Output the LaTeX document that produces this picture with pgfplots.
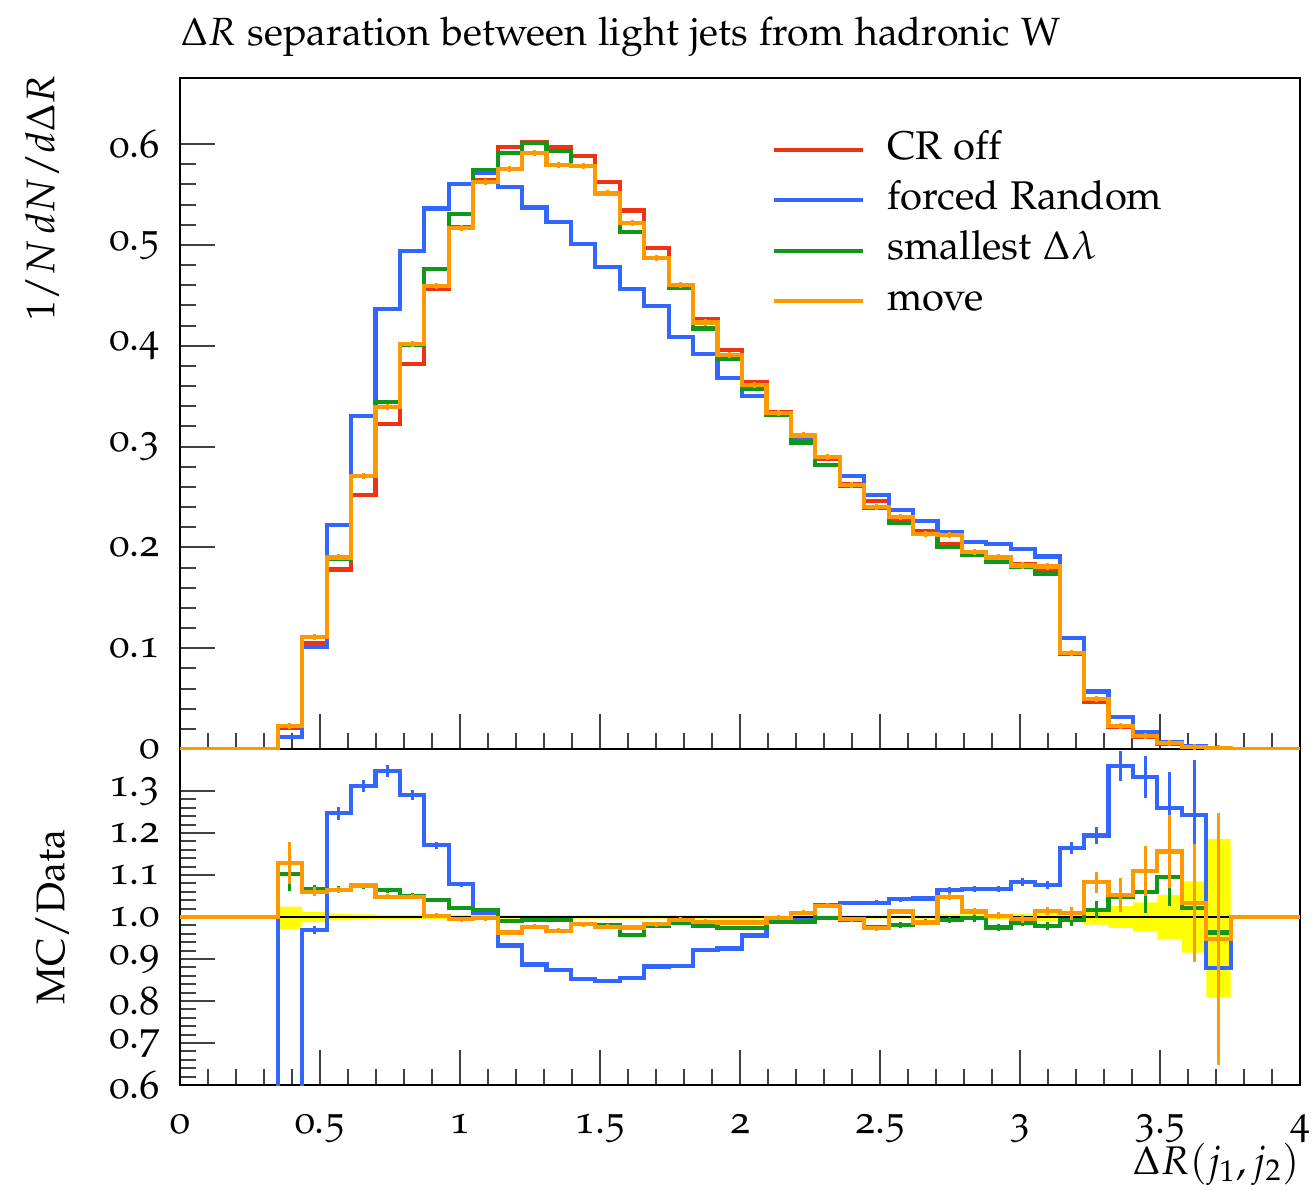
\documentclass[border=0pt,12pt]{standalone}
\usepackage[T1]{fontenc}
\usepackage[osf]{mathpazo}
\usepackage{pgfplots}
\usepackage{pgfplotstable}
\pgfplotsset{compat=1.18}
\usepgfplotslibrary{fillbetween}
\definecolor{cred}{HTML}{EE3311}
\definecolor{cblue}{HTML}{3366FF}
\definecolor{cgreen}{HTML}{109618}
\definecolor{corange}{HTML}{FF9900}
\definecolor{cband}{HTML}{FFFF00}

\pgfplotstableread{
x c R B G O
0.0000 0.0436 0 0 0 0
0.0873 0.1309 0 0 0 0
0.1745 0.2182 0 0 0 0
0.2618 0.3054 0 0 0 0
0.3491 0.3927 0.021 0.012 0.023 0.023
0.4363 0.4800 0.105 0.101 0.111 0.111
0.5236 0.5672 0.178 0.222 0.189 0.190
0.6109 0.6545 0.252 0.330 0.271 0.271
0.6981 0.7418 0.322 0.436 0.344 0.339
0.7854 0.8290 0.382 0.494 0.401 0.402
0.8727 0.9163 0.456 0.536 0.476 0.459
0.9599 1.0036 0.518 0.560 0.531 0.517
1.0472 1.0908 0.564 0.571 0.574 0.562
1.1345 1.1781 0.597 0.557 0.591 0.575
1.2217 1.2654 0.602 0.537 0.601 0.591
1.3090 1.3526 0.597 0.523 0.593 0.579
1.3963 1.4399 0.588 0.501 0.578 0.578
1.4835 1.5272 0.562 0.478 0.551 0.551
1.5708 1.6144 0.534 0.456 0.513 0.522
1.6581 1.7017 0.497 0.439 0.487 0.487
1.7453 1.7890 0.460 0.409 0.457 0.460
1.8326 1.8762 0.426 0.392 0.417 0.423
1.9199 1.9635 0.396 0.368 0.387 0.391
2.0071 2.0508 0.364 0.350 0.357 0.361
2.0944 2.1380 0.334 0.331 0.331 0.333
2.1817 2.2253 0.309 0.306 0.304 0.311
2.2689 2.3126 0.288 0.290 0.282 0.290
2.3562 2.3998 0.263 0.271 0.261 0.262
2.4435 2.4871 0.246 0.252 0.239 0.240
2.5307 2.5744 0.227 0.237 0.224 0.230
2.6180 2.6616 0.216 0.226 0.213 0.213
2.7053 2.7489 0.203 0.215 0.200 0.212
2.7925 2.8362 0.193 0.205 0.192 0.195
2.8798 2.9234 0.189 0.203 0.186 0.190
2.9671 3.0107 0.183 0.198 0.181 0.182
3.0543 3.0980 0.178 0.191 0.174 0.181
3.1416 3.1852 0.094 0.110 0.094 0.095
3.2289 3.2725 0.047 0.057 0.049 0.050
3.3161 3.3598 0.022 0.032 0.023 0.023
3.4034 3.4470 0.012 0.017 0.013 0.013
3.4907 3.5343 0.0055 0.007 0.006 0.006
3.5779 3.6216 0.002 0.0025 0.002 0.002
3.6652 3.7088 0.001 0.001 0.001 0.001
3.7525 3.7961 0.0004 0.0004 0.0004 0.0004
3.8397 3.8834 0.0002 0.0002 0.0002 0.0002
3.9270 3.9706 0.0001 0.0001 0.0001 0.0001
4.0000 4.0000 0.0001 0.0001 0.0001 0.0001
}\up

\pgfplotstableread{
x c B G O eB eG eO lo hi
0.0000 0.0436 1 1 1 0 0 0 1 1
0.0873 0.1309 1 1 1 0 0 0 1 1
0.1745 0.2182 1 1 1 0 0 0 1 1
0.2618 0.3054 1 1 1 0 0 0 1 1
0.3491 0.3927 0.55 1.102 1.129 0.03 0.04 0.05 0.972 1.025
0.4363 0.4800 0.969 1.067 1.060 0.010 0.010 0.011 0.988 1.012
0.5236 0.5672 1.247 1.065 1.064 0.015 0.008 0.008 0.992 1.008
0.6109 0.6545 1.312 1.073 1.075 0.015 0.007 0.007 0.994 1.006
0.6981 0.7418 1.348 1.064 1.048 0.015 0.006 0.006 0.995 1.005
0.7854 0.8290 1.290 1.050 1.048 0.012 0.006 0.006 0.995 1.005
0.8727 0.9163 1.171 1.041 1.003 0.008 0.005 0.006 0.995 1.005
0.9599 1.0036 1.078 1.022 0.995 0.006 0.005 0.006 0.995 1.005
1.0472 1.0908 1.010 1.017 0.997 0.005 0.005 0.006 0.995 1.005
1.1345 1.1781 0.932 0.990 0.963 0.005 0.005 0.006 0.996 1.004
1.2217 1.2654 0.887 0.993 0.977 0.005 0.005 0.006 0.996 1.004
1.3090 1.3526 0.874 0.993 0.967 0.005 0.005 0.006 0.996 1.004
1.3963 1.4399 0.852 0.983 0.983 0.005 0.005 0.006 0.996 1.004
1.4835 1.5272 0.848 0.980 0.977 0.005 0.005 0.006 0.996 1.004
1.5708 1.6144 0.854 0.957 0.975 0.005 0.005 0.006 0.996 1.004
1.6581 1.7017 0.882 0.979 0.983 0.005 0.005 0.006 0.996 1.004
1.7453 1.7890 0.884 0.987 0.993 0.005 0.005 0.006 0.996 1.004
1.8326 1.8762 0.921 0.979 0.989 0.005 0.005 0.006 0.996 1.004
1.9199 1.9635 0.925 0.973 0.987 0.005 0.005 0.006 0.996 1.004
2.0071 2.0508 0.956 0.973 0.987 0.005 0.005 0.006 0.996 1.004
2.0944 2.1380 0.989 0.989 0.998 0.005 0.005 0.006 0.996 1.004
2.1817 2.2253 0.993 0.989 1.010 0.005 0.005 0.006 0.996 1.004
2.2689 2.3126 1.029 0.997 1.027 0.005 0.005 0.006 0.996 1.004
2.3562 2.3998 1.033 0.992 0.995 0.005 0.005 0.006 0.996 1.004
2.4435 2.4871 1.034 0.976 0.973 0.006 0.006 0.006 0.996 1.004
2.5307 2.5744 1.042 0.981 1.013 0.006 0.006 0.007 0.996 1.004
2.6180 2.6616 1.044 0.989 0.987 0.006 0.006 0.007 0.996 1.004
2.7053 2.7489 1.064 0.993 1.048 0.007 0.007 0.008 0.994 1.006
2.7925 2.8362 1.067 0.997 1.013 0.008 0.008 0.008 0.994 1.006
2.8798 2.9234 1.067 0.975 1.003 0.008 0.008 0.008 0.994 1.006
2.9671 3.0107 1.083 0.987 0.995 0.009 0.009 0.009 0.992 1.008
3.0543 3.0980 1.076 0.979 1.015 0.010 0.010 0.010 0.990 1.010
3.1416 3.1852 1.164 0.993 1.009 0.015 0.015 0.015 0.988 1.012
3.2289 3.2725 1.194 1.017 1.083 0.020 0.020 0.025 0.982 1.018
3.3161 3.3598 1.360 1.048 1.052 0.035 0.035 0.040 0.974 1.026
3.4034 3.4470 1.334 1.059 1.110 0.050 0.050 0.060 0.965 1.035
3.4907 3.5343 1.260 1.096 1.156 0.085 0.070 0.088 0.947 1.053
3.5779 3.6216 1.243 1.021 1.034 0.130 0.100 0.140 0.915 1.085
3.6652 3.7088 0.878 0.963 0.947 0.150 0.180 0.300 0.810 1.186
3.7525 3.7961 1 1 1 0 0 0 1 1
3.8397 3.8834 1 1 1 0 0 0 1 1
3.9270 3.9706 1 1 1 0 0 0 1 1
4.0000 4.0000 1 1 1 0 0 0 1 1
}\ra

\pgfplotsset{
  rivet/.style={
    scale only axis, width=336pt,
    xmin=0, xmax=4,
    axis line style={line width=0.6pt, black},
    tick align=inside, xtick pos=left, ytick pos=left,
    major tick length=10.5pt, minor tick length=4.7pt,
    every tick/.style={line width=0.6pt, black!75},
    minor x tick num=4, minor y tick num=4,
    xtick={0,0.5,1,1.5,2,2.5,3,3.5,4},
    /pgf/number format/assume math mode=true,
    yticklabel style={xshift=-2pt},
  },
  hist/.style={const plot mark left, line width=1.25pt},
  errb/.style={forget plot, draw=none, mark=none,
    error bars/y dir=both, error bars/error mark=none,
    error bars/error bar style={draw=#1, line width=0.9pt, solid}},
}

\begin{document}
\begin{tikzpicture}
% ---------------- upper panel ----------------
\begin{axis}[rivet,
  at={(0pt,100.8pt)}, anchor=south west, height=201.3pt,
  ymin=0, ymax=0.6655,
  ytick={0,0.1,0.2,0.3,0.4,0.5,0.6},
  xticklabels={},
  title={\fontsize{11.8}{14}\selectfont$\Delta R$ separation between light jets from hadronic W},
  title style={at={(rel axis cs:0,1)}, anchor=base west, inner sep=0pt, yshift=3.6pt},
  ylabel={$1/N\,dN/d\Delta R$},
  ylabel style={at={(axis description cs:-0.123,1.0045)}, anchor=east, inner sep=0pt},
  legend cell align=left,
  legend image code/.code={\draw[#1, line width=1.25pt] (0pt,0pt) -- (26.7pt,0pt);},
  legend style={draw=none, fill=none, at={(0.5285,0.9213)}, anchor=north west,
    inner sep=0pt, outer sep=0pt, row sep=3.6pt, column sep=6.6pt,
    nodes={inner sep=0pt, text height=8.5pt, text depth=3pt}},
]
\addplot[hist, cred] table[x=x, y=R] {\up};
\addlegendentry{CR off}
\addplot[hist, cblue] table[x=x, y=B] {\up};
\addlegendentry{forced Random}
\addplot[hist, cgreen] table[x=x, y=G] {\up};
\addlegendentry{smallest $\Delta\lambda$}
\addplot[hist, corange] table[x=x, y=O] {\up};
\addlegendentry{move}
\addplot[errb=cred, error bars/y fixed=0.002] table[x=c, y=R, skip coords between index={0}{4}, skip coords between index={43}{47}] {\up};
\addplot[errb=cblue, error bars/y fixed=0.002] table[x=c, y=B, skip coords between index={0}{4}, skip coords between index={43}{47}] {\up};
\addplot[errb=cgreen, error bars/y fixed=0.002] table[x=c, y=G, skip coords between index={0}{4}, skip coords between index={43}{47}] {\up};
\addplot[errb=corange, error bars/y fixed=0.003] table[x=c, y=O, skip coords between index={0}{4}, skip coords between index={43}{47}] {\up};
\end{axis}
% ---------------- ratio panel ----------------
\begin{axis}[rivet,
  at={(0pt,0pt)}, anchor=south west, height=100.8pt,
  ymin=0.6, ymax=1.4,
  ytick={0.6,0.7,0.8,0.9,1.0,1.1,1.2,1.3},
  yticklabels={0.6,0.7,0.8,0.9,1.0,1.1,1.2,1.3},
  xticklabel style={anchor=base, yshift=-14.4pt},
  ylabel={MC/Data},
  ylabel style={at={(axis description cs:-0.114,0.5)}, anchor=center, inner sep=0pt},
  xlabel={$\Delta R(j_1, j_2)$},
  xlabel style={at={(axis description cs:1,-0.17)}, anchor=north east, inner sep=0pt},
]
\addplot[const plot mark left, draw=none, name path=hi, forget plot] table[x=x, y=hi] {\ra};
\addplot[const plot mark left, draw=none, name path=lo, forget plot] table[x=x, y=lo] {\ra};
\addplot[fill=cband, draw=none, forget plot] fill between[of=hi and lo];
\addplot[black, line width=0.6pt, forget plot] coordinates {(0,1) (4,1)};
\addplot[hist, cblue] table[x=x, y=B] {\ra};
\addplot[hist, cgreen] table[x=x, y=G] {\ra};
\addplot[hist, corange] table[x=x, y=O] {\ra};
\addplot[errb=cblue, error bars/y explicit] table[x=c, y=B, y error=eB, skip coords between index={0}{5}, skip coords between index={43}{47}] {\ra};
\addplot[errb=cgreen, error bars/y explicit] table[x=c, y=G, y error=eG, skip coords between index={0}{4}, skip coords between index={43}{47}] {\ra};
\addplot[errb=corange, error bars/y explicit] table[x=c, y=O, y error=eO, skip coords between index={0}{4}, skip coords between index={43}{47}] {\ra};
\end{axis}
\pgfresetboundingbox
\path[use as bounding box] (-54pt,-31.5pt) rectangle (339.9pt,325.5pt);
\end{tikzpicture}
\end{document}
